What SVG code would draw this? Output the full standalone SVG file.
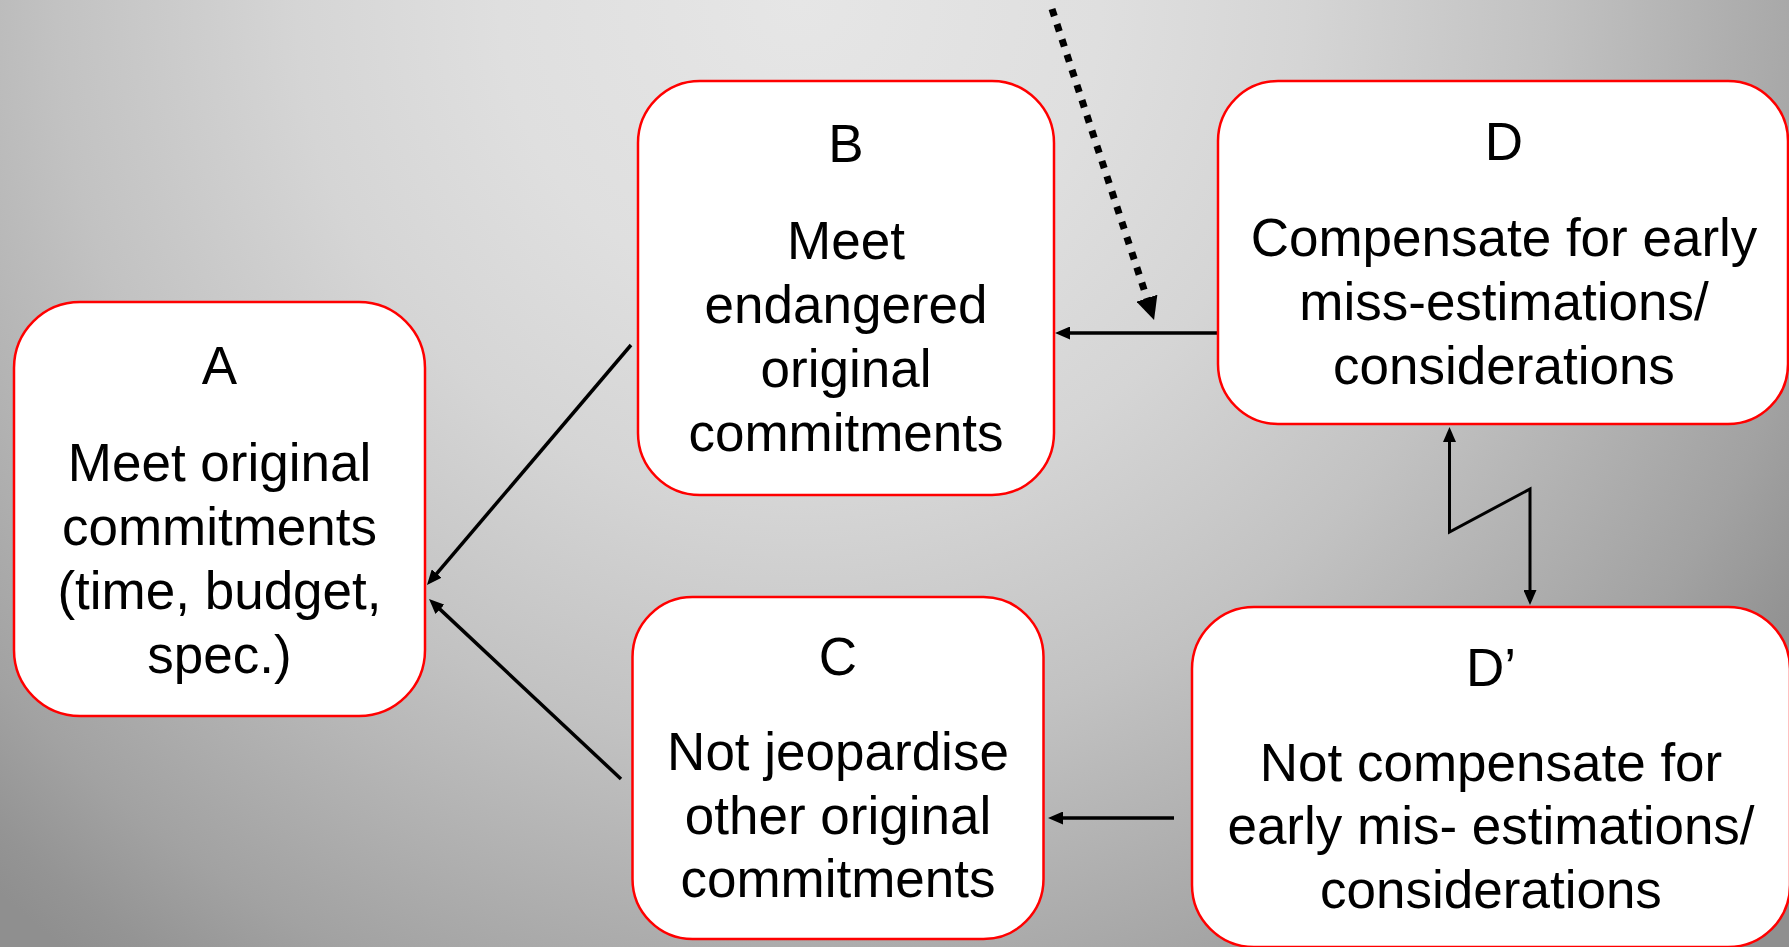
<svg xmlns="http://www.w3.org/2000/svg" width="1789" height="947" viewBox="0 0 1789 947">
  <defs>
    <radialGradient id="bg" gradientUnits="userSpaceOnUse" cx="800" cy="0" r="1200">
      <stop offset="0" stop-color="#e6e6e6"/>
      <stop offset="0.25" stop-color="#dfdfdf"/>
      <stop offset="0.42" stop-color="#d5d5d5"/>
      <stop offset="0.62" stop-color="#c2c2c2"/>
      <stop offset="0.875" stop-color="#a2a2a2"/>
      <stop offset="0.96" stop-color="#949494"/>
      <stop offset="1" stop-color="#8f8f8f"/>
    </radialGradient>
    <marker id="arrow" markerUnits="userSpaceOnUse" markerWidth="15" markerHeight="13" refX="2" refY="6.5" orient="auto-start-reverse">
      <path d="M0,0 L15,6.5 L0,13 Z" fill="#000"/>
    </marker>
    <marker id="arrowBig" markerUnits="userSpaceOnUse" markerWidth="23" markerHeight="22" refX="1" refY="11" orient="auto">
      <path d="M0,0 L23,11 L0,22 Z" fill="#000"/>
    </marker>
    <style>
      .box { fill: #ffffff; stroke: #ff0000; stroke-width: 2.5; }
      .lbl { font-family: "Liberation Sans", Arial, sans-serif; font-size: 53px; fill: #000; text-anchor: middle; }
      .conn { fill: none; stroke: #000; stroke-width: 3.5; }
      .thin { stroke-width: 3; }
      .dots { fill: none; stroke: #000; stroke-width: 7; stroke-dasharray: 7.5 8.5; }
    </style>
  </defs>

  <rect x="0" y="0" width="1789" height="947" fill="url(#bg)"/>

  <g id="connectors">
    <!-- B to A -->
    <path class="conn" d="M631,345 L435.4,575.1" marker-end="url(#arrow)"/>
    <!-- C to A -->
    <path class="conn" d="M621,779 L438.5,607.9" marker-end="url(#arrow)"/>
    <!-- D to B -->
    <path class="conn" d="M1218,333 L1068,333" marker-end="url(#arrow)"/>
    <!-- D' to C -->
    <path class="conn" d="M1174,818 L1061,818" marker-end="url(#arrow)"/>
    <!-- conflict between D and D' -->
    <path class="conn thin" d="M1449.5,440 L1449.5,532 L1530,489 L1530,592" marker-start="url(#arrow)" marker-end="url(#arrow)"/>
    <!-- external influence onto the D to B link -->
    <path class="dots" d="M1052,9 L1147.2,299.1" marker-end="url(#arrowBig)"/>
  </g>

  <g id="node-A">
    <rect class="box" x="14" y="302" width="411" height="414" rx="66" ry="66"/>
    <text class="lbl" x="219.5" y="384">A</text>
    <text class="lbl" x="219.5" y="481">Meet original</text>
    <text class="lbl" x="219.5" y="545">commitments</text>
    <text class="lbl" x="219.5" y="609">(time, budget,</text>
    <text class="lbl" x="219.5" y="673">spec.)</text>
  </g>

  <g id="node-B">
    <rect class="box" x="638" y="81" width="416" height="414" rx="62" ry="62"/>
    <text class="lbl" x="846" y="162">B</text>
    <text class="lbl" x="846" y="259">Meet</text>
    <text class="lbl" x="846" y="323">endangered</text>
    <text class="lbl" x="846" y="387">original</text>
    <text class="lbl" x="846" y="451">commitments</text>
  </g>

  <g id="node-C">
    <rect class="box" x="632.5" y="597" width="411" height="342" rx="60" ry="60"/>
    <text class="lbl" x="838" y="675">C</text>
    <text class="lbl" x="838" y="770">Not jeopardise</text>
    <text class="lbl" x="838" y="834">other original</text>
    <text class="lbl" x="838" y="897">commitments</text>
  </g>

  <g id="node-D">
    <rect class="box" x="1218" y="81" width="570" height="343" rx="60" ry="60"/>
    <text class="lbl" x="1504" y="160">D</text>
    <text class="lbl" x="1504" y="256">Compensate for early</text>
    <text class="lbl" x="1504" y="320">miss-estimations/</text>
    <text class="lbl" x="1504" y="384">considerations</text>
  </g>

  <g id="node-Dprime">
    <rect class="box" x="1192" y="607" width="598" height="340" rx="62" ry="62"/>
    <text class="lbl" x="1491" y="686">D’</text>
    <text class="lbl" x="1491" y="781">Not compensate for</text>
    <text class="lbl" x="1491" y="844">early mis- estimations/</text>
    <text class="lbl" x="1491" y="908">considerations</text>
  </g>
</svg>
